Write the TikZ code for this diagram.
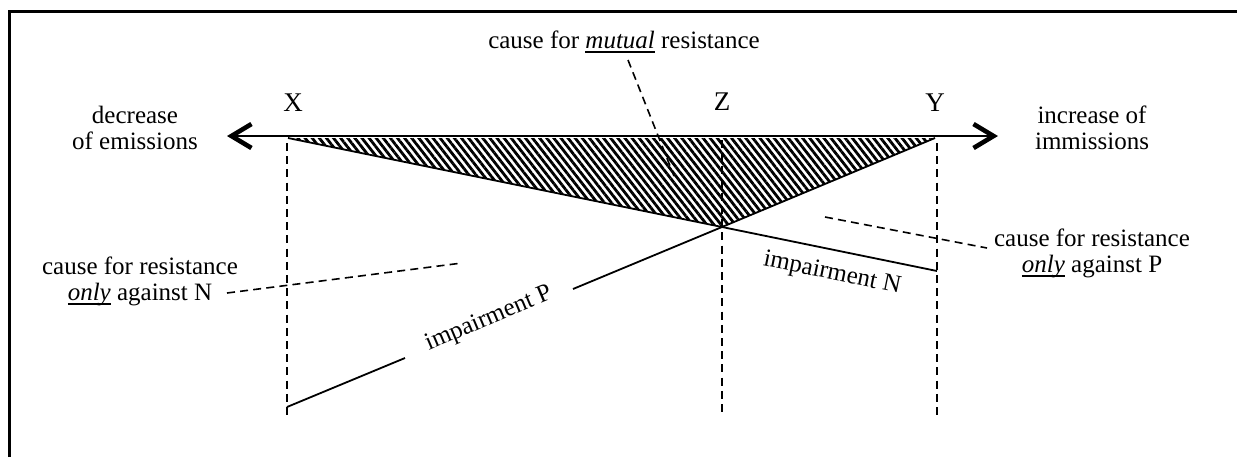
\documentclass[tikz,border=0pt]{standalone}
\usepackage{fontspec}
\setmainfont{Liberation Serif}
\newcommand\thickul[1]{\setbox0=\hbox{#1}\rlap{\rule[-2.6pt]{\wd0}{1.3pt}}\box0\relax}
\usetikzlibrary{arrows.meta,patterns.meta}
\begin{document}
\begin{tikzpicture}[x=0.5pt,y=-0.5pt,
  lbl/.style={font=\fontsize{12.5}{13}\selectfont, inner sep=0pt, align=center},
  letter/.style={font=\fontsize{13.5}{14}\selectfont, inner sep=0pt},
  dline/.style={dash pattern=on 4pt off 2.6pt, line width=0.8pt},
  sline/.style={line width=0.9pt},
  bigarrow/.style={line width=1pt, -{Straight Barb[length=10pt,width=12pt,line width=2.3pt]}}
]
\useasboundingbox (0,0) rectangle (1237,457);
% frame (top and left only)
\draw[line width=1.5pt] (9,457) -- (9,11) -- (1237,11);

% key points
\coordinate (XL) at (288,138);
\coordinate (YR) at (935,138);
\coordinate (V) at (722,227);
\coordinate (Nend) at (937,271);
\coordinate (Pstart) at (287,407);
\coordinate (Pgap1) at (405,358);
\coordinate (Pgap2) at (573,289);
\coordinate (Ltip) at (227,136);
\coordinate (Rtip) at (998,136);
\coordinate (Mid) at (612,136);

% hatched triangle
\fill[pattern={Lines[angle=-52,distance=2.8pt,line width=1.4pt]}] (XL) -- (YR) -- (V) -- cycle;

% axis with arrows
\draw[bigarrow] (Mid) -- (Ltip);
\draw[bigarrow] (Mid) -- (Rtip);

% dashed verticals
\draw[dline] (287,143) -- (287,415);
\draw[dline] (937,143) -- (937,415);
\draw[dline] (722,140) -- (722,413);

% solid lines
\draw[sline] (XL) -- (V) -- (Nend);
\draw[sline] (Pstart) -- (Pgap1);
\draw[sline] (Pgap2) -- (V) -- (YR);

% letters
\node[letter] (X) at (293,103) {X};
\node[letter] (Z) at (722,102) {Z};
\node[letter] (Y) at (935,103) {Y};

% labels
\node[lbl] (dec) at (135,128) {decrease\\of emissions};
\node[lbl] (inc) at (1092,128) {increase of\\immissions};
\node[lbl] (mut) at (624,42) {cause for \thickul{\textit{mutual}} resistance};
\node[lbl] (onN) at (140,281) {cause for resistance\\\thickul{\textit{only}} against N};
\node[lbl] (onP) at (1092,253) {cause for resistance\\\thickul{\textit{only}} against P};
\node[lbl, rotate=-11.6] (impN) at (832,274) {impairment N};
\node[lbl, rotate=23] (impP) at (489,319) {impairment P};

% pointer dashed lines
\coordinate (mutA) at (628,60);
\coordinate (mutB) at (674,176);
\draw[dline] (mutA) -- (mutB);
\coordinate (nA) at (227,293);
\coordinate (nB) at (462,263);
\draw[dline] (nA) -- (nB);
\coordinate (pA) at (825,217);
\coordinate (pB) at (987,248);
\draw[dline] (pA) -- (pB);
\end{tikzpicture}
\end{document}
